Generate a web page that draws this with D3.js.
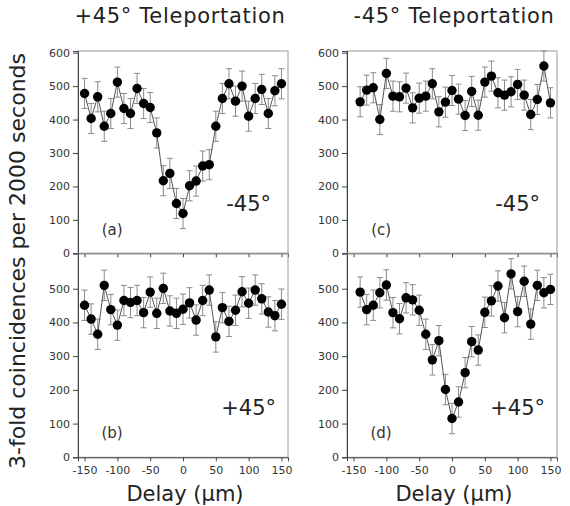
<!DOCTYPE html>
<html>
<head>
<meta charset="utf-8">
<script src="https://cdn.jsdelivr.net/npm/d3@7"></script>
<style>
body { margin:0; background:#fff; }
text { font-family:"DejaVu Sans", sans-serif; }
</style>
</head>
<body>
<svg id="chart" width="570" height="506"></svg>
<script>
var delayAB = [-150,-140,-130,-120,-110,-100,-90,-80,-70,-60,-50,-40,-30,-20,-10,0,10,20,30,40,50,60,70,80,90,100,110,120,130,140,150];
var delayCD = [-140,-130,-120,-110,-100,-90,-80,-70,-60,-50,-40,-30,-20,-10,0,10,20,30,40,50,60,70,80,90,100,110,120,130,140,150];
var countsA = [478,403,468,380,418,512,433,418,493,448,436,360,217,239,149,119,202,216,261,265,380,463,507,455,500,410,463,490,418,486,507];
var countsB = [451,410,365,510,438,392,465,459,465,429,490,427,501,434,427,439,458,407,465,496,357,444,403,436,491,457,496,470,431,420,454];
var countsC = [453,488,495,400,538,470,468,494,435,464,470,507,423,452,487,461,412,484,413,512,530,480,473,483,505,473,415,460,560,450];
var countsD = [490,438,451,488,511,429,411,473,467,436,365,289,346,201,115,164,251,343,318,430,464,508,414,544,432,522,395,510,488,498];
var errBar = 45;	// counts
var yTicks = [0,100,200,300,400,500,600];
var xTicks = [-150,-100,-50,0,50,100,150];
var panelNames = ["(a)","(b)","(c)","(d)"];
var polarNames = ["-45°","+45°","-45°","+45°"];
var titles = ["+45° Teleportation","-45° Teleportation"];

var svg = d3.select("#chart");
var cols = [[78,288],[347,557]];
var rows = [[51,253.3],[253.3,457.3]];

function drawPanel(i, delays, counts, col, row) {
	var x = d3.scaleLinear().domain([-160,160]).range(cols[col]);
	var y = d3.scaleLinear().domain([0,605]).range([rows[row][1], rows[row][0]]);
	var g = svg.append("g");
	var isBottom = row == 1;

	// frame
	g.append("rect")
		.attr("x", cols[col][0]).attr("y", rows[row][0])
		.attr("width", cols[col][1]-cols[col][0]).attr("height", rows[row][1]-rows[row][0])
		.attr("fill", "none").attr("stroke", "#9a9a9a").attr("stroke-width", 1);

	// y axis
	var ya = d3.axisLeft(y).tickValues(isBottom ? yTicks.slice(0,6) : yTicks).tickSize(5).tickPadding(3);
	var yg = g.append("g").attr("transform", "translate(" + cols[col][0] + ",0)").call(ya);
	yg.select(".domain").attr("stroke", "#444");
	yg.selectAll(".tick line").attr("stroke", "#444");
	yg.selectAll("text").attr("fill", "#333").style("font-size", "11px");

	// x axis
	var xa = d3.axisBottom(x).tickValues(xTicks).tickSize(4).tickPadding(5)
		.tickFormat(function(d) { return isBottom ? String(d) : ""; });
	var xg = g.append("g").attr("transform", "translate(0," + rows[row][1] + ")").call(xa);
	xg.select(".domain").attr("stroke", "#444");
	xg.selectAll(".tick line").attr("stroke", "#444");
	xg.selectAll("text").attr("fill", "#333").style("font-size", "11px");

	var pts = delays.map(function(d, k) { return {d:d, c:counts[k]}; });

	// error bars
	var eb = g.append("g").attr("stroke", "#8a8a8a").attr("stroke-width", 1);
	pts.forEach(function(p) {
		var px = x(p.d), top = y(p.c + errBar), bot = y(p.c - errBar);
		eb.append("line").attr("x1", px).attr("x2", px).attr("y1", top).attr("y2", bot);
		eb.append("line").attr("x1", px-3).attr("x2", px+3).attr("y1", top).attr("y2", top);
		eb.append("line").attr("x1", px-3).attr("x2", px+3).attr("y1", bot).attr("y2", bot);
	});

	var line = d3.line().x(function(p) { return x(p.d); }).y(function(p) { return y(p.c); });
	g.append("path").datum(pts).attr("d", line)
		.attr("fill", "none").attr("stroke", "#555").attr("stroke-width", 1);

	g.selectAll("circle.pt").data(pts).enter().append("circle")
		.attr("class", "pt")
		.attr("cx", function(p) { return x(p.d); })
		.attr("cy", function(p) { return y(p.c); })
		.attr("r", 4.7).attr("fill", "#000");

	g.append("text").attr("x", x(-108)).attr("y", y(56))
		.attr("text-anchor", "middle").attr("fill", "#333").style("font-size", "15px")
		.text(panelNames[i]);
	g.append("text").attr("x", x(100)).attr("y", y(126))
		.attr("text-anchor", "middle").attr("fill", "#222").style("font-size", "21px")
		.text(polarNames[i]);

	if(isBottom) {
		svg.append("text").attr("x", (cols[col][0]+cols[col][1])/2 + 2).attr("y", 501)
			.attr("text-anchor", "middle").attr("fill", "#222").style("font-size", "21px")
			.text("Delay (µm)");
	} else {
		svg.append("text").attr("x", (cols[col][0]+cols[col][1])/2 - 3 + col*5).attr("y", 23)
			.attr("text-anchor", "middle").attr("fill", "#222").style("font-size", "21px")
			.style("letter-spacing", "0.7px")
			.text(titles[col]);
	}
}

drawPanel(0, delayAB, countsA, 0, 0);
drawPanel(1, delayAB, countsB, 0, 1);
drawPanel(2, delayCD, countsC, 1, 0);
drawPanel(3, delayCD, countsD, 1, 1);

svg.append("text")
	.attr("transform", "translate(25,261) rotate(-90)")
	.attr("text-anchor", "middle").attr("fill", "#222").style("font-size", "22px")
	.text("3-fold coincidences per 2000 seconds");
</script>
</body>
</html>
